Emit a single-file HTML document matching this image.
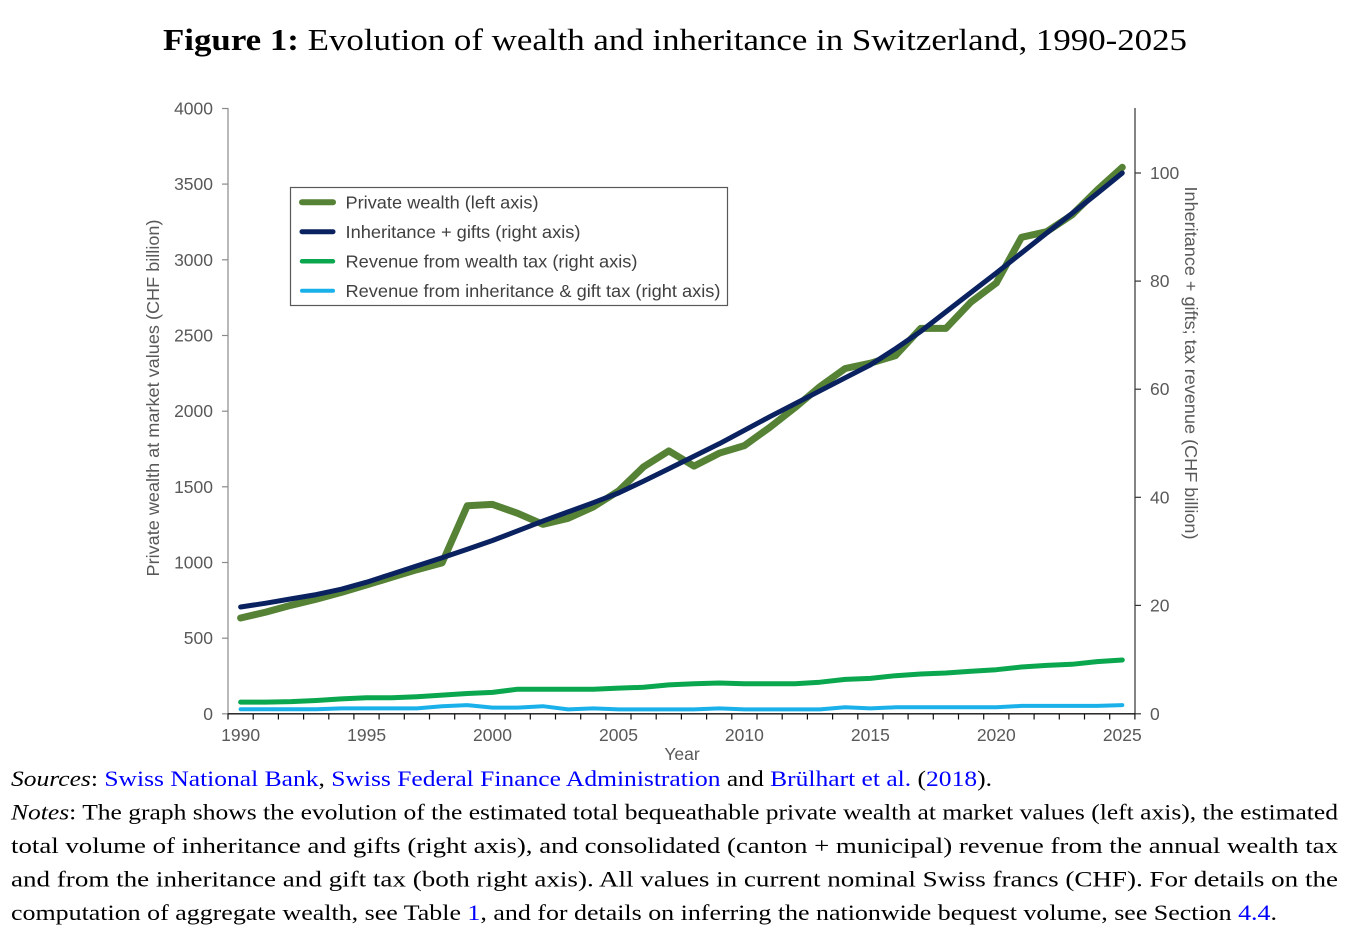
<!DOCTYPE html>
<html>
<head>
<meta charset="utf-8">
<style>
  html, body { margin: 0; padding: 0; background: #fff; }
  body { width: 1358px; height: 934px; overflow: hidden; }
  svg { display: block; }
  .tick { font-family: "Liberation Sans", Arial, sans-serif; font-size: 17.5px; fill: #595959; }
  .leg { font-family: "Liberation Sans", Arial, sans-serif; font-size: 17.5px; fill: #404040; }
  .ser { font-family: "Liberation Serif", "Times New Roman", serif; font-size: 22.5px; fill: #000; }
  .lnk { fill: #0000ff; }
</style>
</head>
<body>
<svg width="1358" height="934" viewBox="0 0 1358 934" xmlns="http://www.w3.org/2000/svg">
  <rect x="0" y="0" width="1358" height="934" fill="#fff"/>

  <!-- Title -->
  <text x="163" y="50" font-family="Liberation Serif, serif" font-size="31" fill="#000" textLength="1024" lengthAdjust="spacingAndGlyphs"><tspan font-weight="bold">Figure 1:</tspan> Evolution of wealth and inheritance in Switzerland, 1990-2025</text>

  <!-- Axes -->
  <line x1="228" y1="108" x2="228" y2="714" stroke="#8a8a8a" stroke-width="1.2"/>
  <line x1="1135" y1="108" x2="1135" y2="714" stroke="#333" stroke-width="1.2"/>
  <line x1="227.5" y1="713.8" x2="1135.5" y2="713.8" stroke="#111" stroke-width="1.4"/>

  <!-- Left ticks -->
  <g stroke="#8a8a8a" stroke-width="1.2">
    <line x1="222" y1="108.5" x2="228" y2="108.5"/>
    <line x1="222" y1="184.1" x2="228" y2="184.1"/>
    <line x1="222" y1="259.8" x2="228" y2="259.8"/>
    <line x1="222" y1="335.5" x2="228" y2="335.5"/>
    <line x1="222" y1="411.2" x2="228" y2="411.2"/>
    <line x1="222" y1="486.8" x2="228" y2="486.8"/>
    <line x1="222" y1="562.5" x2="228" y2="562.5"/>
    <line x1="222" y1="638.2" x2="228" y2="638.2"/>
    <line x1="222" y1="713.8" x2="228" y2="713.8"/>
  </g>
  <g class="tick" text-anchor="end">
    <text x="213" y="114.5">4000</text>
    <text x="213" y="190.1">3500</text>
    <text x="213" y="265.8">3000</text>
    <text x="213" y="341.5">2500</text>
    <text x="213" y="417.2">2000</text>
    <text x="213" y="492.8">1500</text>
    <text x="213" y="568.5">1000</text>
    <text x="213" y="644.2">500</text>
    <text x="213" y="719.8">0</text>
  </g>

  <!-- Right ticks -->
  <g stroke="#333" stroke-width="1.2">
    <line x1="1135" y1="173" x2="1141" y2="173"/>
    <line x1="1135" y1="281.1" x2="1141" y2="281.1"/>
    <line x1="1135" y1="389.2" x2="1141" y2="389.2"/>
    <line x1="1135" y1="497.3" x2="1141" y2="497.3"/>
    <line x1="1135" y1="605.4" x2="1141" y2="605.4"/>
    <line x1="1135" y1="713.8" x2="1141" y2="713.8"/>
  </g>
  <g class="tick" text-anchor="start">
    <text x="1150" y="179">100</text>
    <text x="1150" y="287.1">80</text>
    <text x="1150" y="395.2">60</text>
    <text x="1150" y="503.3">40</text>
    <text x="1150" y="611.4">20</text>
    <text x="1150" y="719.8">0</text>
  </g>

  <!-- X ticks at category boundaries -->
  <g stroke="#111" stroke-width="1.2">
    <line x1="228.0" y1="713.8" x2="228.0" y2="719.5"/>
    <line x1="253.2" y1="713.8" x2="253.2" y2="719.5"/>
    <line x1="278.4" y1="713.8" x2="278.4" y2="719.5"/>
    <line x1="303.6" y1="713.8" x2="303.6" y2="719.5"/>
    <line x1="328.8" y1="713.8" x2="328.8" y2="719.5"/>
    <line x1="353.9" y1="713.8" x2="353.9" y2="719.5"/>
    <line x1="379.1" y1="713.8" x2="379.1" y2="719.5"/>
    <line x1="404.3" y1="713.8" x2="404.3" y2="719.5"/>
    <line x1="429.5" y1="713.8" x2="429.5" y2="719.5"/>
    <line x1="454.7" y1="713.8" x2="454.7" y2="719.5"/>
    <line x1="479.9" y1="713.8" x2="479.9" y2="719.5"/>
    <line x1="505.1" y1="713.8" x2="505.1" y2="719.5"/>
    <line x1="530.3" y1="713.8" x2="530.3" y2="719.5"/>
    <line x1="555.5" y1="713.8" x2="555.5" y2="719.5"/>
    <line x1="580.7" y1="713.8" x2="580.7" y2="719.5"/>
    <line x1="605.9" y1="713.8" x2="605.9" y2="719.5"/>
    <line x1="631.0" y1="713.8" x2="631.0" y2="719.5"/>
    <line x1="656.2" y1="713.8" x2="656.2" y2="719.5"/>
    <line x1="681.4" y1="713.8" x2="681.4" y2="719.5"/>
    <line x1="706.6" y1="713.8" x2="706.6" y2="719.5"/>
    <line x1="731.8" y1="713.8" x2="731.8" y2="719.5"/>
    <line x1="757.0" y1="713.8" x2="757.0" y2="719.5"/>
    <line x1="782.2" y1="713.8" x2="782.2" y2="719.5"/>
    <line x1="807.4" y1="713.8" x2="807.4" y2="719.5"/>
    <line x1="832.6" y1="713.8" x2="832.6" y2="719.5"/>
    <line x1="857.8" y1="713.8" x2="857.8" y2="719.5"/>
    <line x1="883.0" y1="713.8" x2="883.0" y2="719.5"/>
    <line x1="908.1" y1="713.8" x2="908.1" y2="719.5"/>
    <line x1="933.3" y1="713.8" x2="933.3" y2="719.5"/>
    <line x1="958.5" y1="713.8" x2="958.5" y2="719.5"/>
    <line x1="983.7" y1="713.8" x2="983.7" y2="719.5"/>
    <line x1="1008.9" y1="713.8" x2="1008.9" y2="719.5"/>
    <line x1="1034.1" y1="713.8" x2="1034.1" y2="719.5"/>
    <line x1="1059.3" y1="713.8" x2="1059.3" y2="719.5"/>
    <line x1="1084.5" y1="713.8" x2="1084.5" y2="719.5"/>
    <line x1="1109.7" y1="713.8" x2="1109.7" y2="719.5"/>
    <line x1="1134.9" y1="713.8" x2="1134.9" y2="719.5"/>
  </g>
  <g class="tick" text-anchor="middle">
    <text x="240.6" y="741">1990</text>
    <text x="366.6" y="741">1995</text>
    <text x="492.5" y="741">2000</text>
    <text x="618.5" y="741">2005</text>
    <text x="744.4" y="741">2010</text>
    <text x="870.4" y="741">2015</text>
    <text x="996.3" y="741">2020</text>
    <text x="1122.3" y="741">2025</text>
    <text x="682" y="760">Year</text>
  </g>

  <!-- Axis titles -->
  <text class="tick" transform="translate(159,398) rotate(-90)" text-anchor="middle" textLength="357" lengthAdjust="spacingAndGlyphs">Private wealth at market values (CHF billion)</text>
  <text class="tick" transform="translate(1185,363) rotate(90)" text-anchor="middle" textLength="353" lengthAdjust="spacingAndGlyphs">Inheritance + gifts; tax revenue (CHF billion)</text>

  <!-- Series -->
  <g fill="none" stroke-linejoin="round" stroke-linecap="round">
    <!-- Inheritance tax revenue (light blue) -->
    <polyline stroke="#1ab0ea" stroke-width="4" points="240.6,709.2 265.8,709.2 291.0,709.2 316.2,709.2 341.4,708.4 366.6,708.4 391.7,708.4 416.9,708.4 442.1,706.2 467.3,705.1 492.5,707.6 517.7,707.6 542.9,706.2 568.1,709.4 593.3,708.4 618.5,709.4 643.6,709.4 668.8,709.4 694.0,709.4 719.2,708.4 744.4,709.4 769.6,709.4 794.8,709.4 820.0,709.4 845.2,707.3 870.4,708.4 895.5,707.3 920.7,707.3 945.9,707.3 971.1,707.3 996.3,707.3 1021.5,705.9 1046.7,705.9 1071.9,705.9 1097.1,705.9 1122.3,705.1"/>
    <!-- Wealth tax revenue (green) -->
    <polyline stroke="#0aa74f" stroke-width="5" points="240.6,702.1 265.8,702.1 291.0,701.6 316.2,700.5 341.4,698.9 366.6,697.8 391.7,697.8 416.9,696.7 442.1,695.1 467.3,693.5 492.5,692.4 517.7,689.2 542.9,689.2 568.1,689.2 593.3,689.2 618.5,688.1 643.6,687.3 668.8,684.9 694.0,683.8 719.2,683.0 744.4,683.8 769.6,683.8 794.8,683.8 820.0,682.2 845.2,679.4 870.4,678.4 895.5,675.7 920.7,674.0 945.9,673.0 971.1,671.3 996.3,669.7 1021.5,667.0 1046.7,665.4 1071.9,664.3 1097.1,661.6 1122.3,660.0"/>
    <!-- Private wealth (olive green) -->
    <polyline stroke="#558235" stroke-width="7" points="240.6,618.0 265.8,612.1 291.0,605.3 316.2,599.2 341.4,592.4 366.6,584.9 391.7,577.3 416.9,569.7 442.1,562.9 467.3,505.7 492.5,504.4 517.7,513.3 542.9,524.3 568.1,518.3 593.3,506.9 618.5,491.0 643.6,466.8 668.8,450.9 694.0,466.1 719.2,453.2 744.4,445.6 769.6,427.5 794.8,407.8 820.0,386.6 845.2,368.5 870.4,363.2 895.5,355.6 920.7,328.4 945.9,328.4 971.1,301.9 996.3,283.0 1021.5,237.3 1046.7,231.7 1071.9,215.0 1097.1,190.1 1122.3,167.3"/>
    <!-- Inheritance + gifts (navy) -->
    <polyline stroke="#0b2260" stroke-width="5" points="240.6,607.0 265.8,603.2 291.0,598.9 316.2,594.6 341.4,589.2 366.6,582.2 391.7,574.1 416.9,565.9 442.1,557.8 467.3,549.2 492.5,540.5 517.7,530.8 542.9,521.1 568.1,511.9 593.3,502.7 618.5,493.0 643.6,481.1 668.8,468.7 694.0,456.2 719.2,443.8 744.4,430.3 769.6,416.8 794.8,403.8 820.0,390.8 845.2,377.8 870.4,364.9 895.5,348.7 920.7,331.4 945.9,311.9 971.1,292.4 996.3,273.0 1021.5,253.0 1046.7,233.0 1071.9,213.5 1097.1,193.5 1122.3,173.0"/>
  </g>

  <!-- Legend -->
  <rect x="290.5" y="187.5" width="437" height="118" fill="#fff" stroke="#595959" stroke-width="1.2"/>
  <g stroke-linecap="round">
    <line x1="302" y1="202.3" x2="333" y2="202.3" stroke="#558235" stroke-width="6"/>
    <line x1="302" y1="231.7" x2="333" y2="231.7" stroke="#0b2260" stroke-width="5"/>
    <line x1="302" y1="261.3" x2="333" y2="261.3" stroke="#0aa74f" stroke-width="4.5"/>
    <line x1="302" y1="290.7" x2="333" y2="290.7" stroke="#1ab0ea" stroke-width="4"/>
  </g>
  <text class="leg" x="345.5" y="208.5" textLength="193" lengthAdjust="spacingAndGlyphs">Private wealth (left axis)</text>
  <text class="leg" x="345.5" y="238" textLength="235" lengthAdjust="spacingAndGlyphs">Inheritance + gifts (right axis)</text>
  <text class="leg" x="345.5" y="267.5" textLength="292" lengthAdjust="spacingAndGlyphs">Revenue from wealth tax (right axis)</text>
  <text class="leg" x="345.5" y="297" textLength="375" lengthAdjust="spacingAndGlyphs">Revenue from inheritance &amp; gift tax (right axis)</text>

  <!-- Notes -->
  <text class="ser" x="11" y="786" textLength="981" lengthAdjust="spacingAndGlyphs"><tspan font-style="italic">Sources</tspan>: <tspan class="lnk">Swiss National Bank</tspan>, <tspan class="lnk">Swiss Federal Finance Administration</tspan> and <tspan class="lnk">Brülhart et al.</tspan> (<tspan class="lnk">2018</tspan>).</text>
  <text class="ser" x="11" y="819.5" textLength="1327" lengthAdjust="spacingAndGlyphs"><tspan font-style="italic">Notes</tspan>: The graph shows the evolution of the estimated total bequeathable private wealth at market values (left axis), the estimated</text>
  <text class="ser" x="11" y="853" textLength="1327" lengthAdjust="spacingAndGlyphs">total volume of inheritance and gifts (right axis), and consolidated (canton + municipal) revenue from the annual wealth tax</text>
  <text class="ser" x="11" y="886.7" textLength="1327" lengthAdjust="spacingAndGlyphs">and from the inheritance and gift tax (both right axis).  All values in current nominal Swiss francs (CHF). For details on the</text>
  <text class="ser" x="11" y="920" textLength="1266" lengthAdjust="spacingAndGlyphs">computation of aggregate wealth, see Table <tspan class="lnk">1</tspan>, and for details on inferring the nationwide bequest volume, see Section <tspan class="lnk">4.4</tspan>.</text>
</svg>
</body>
</html>
